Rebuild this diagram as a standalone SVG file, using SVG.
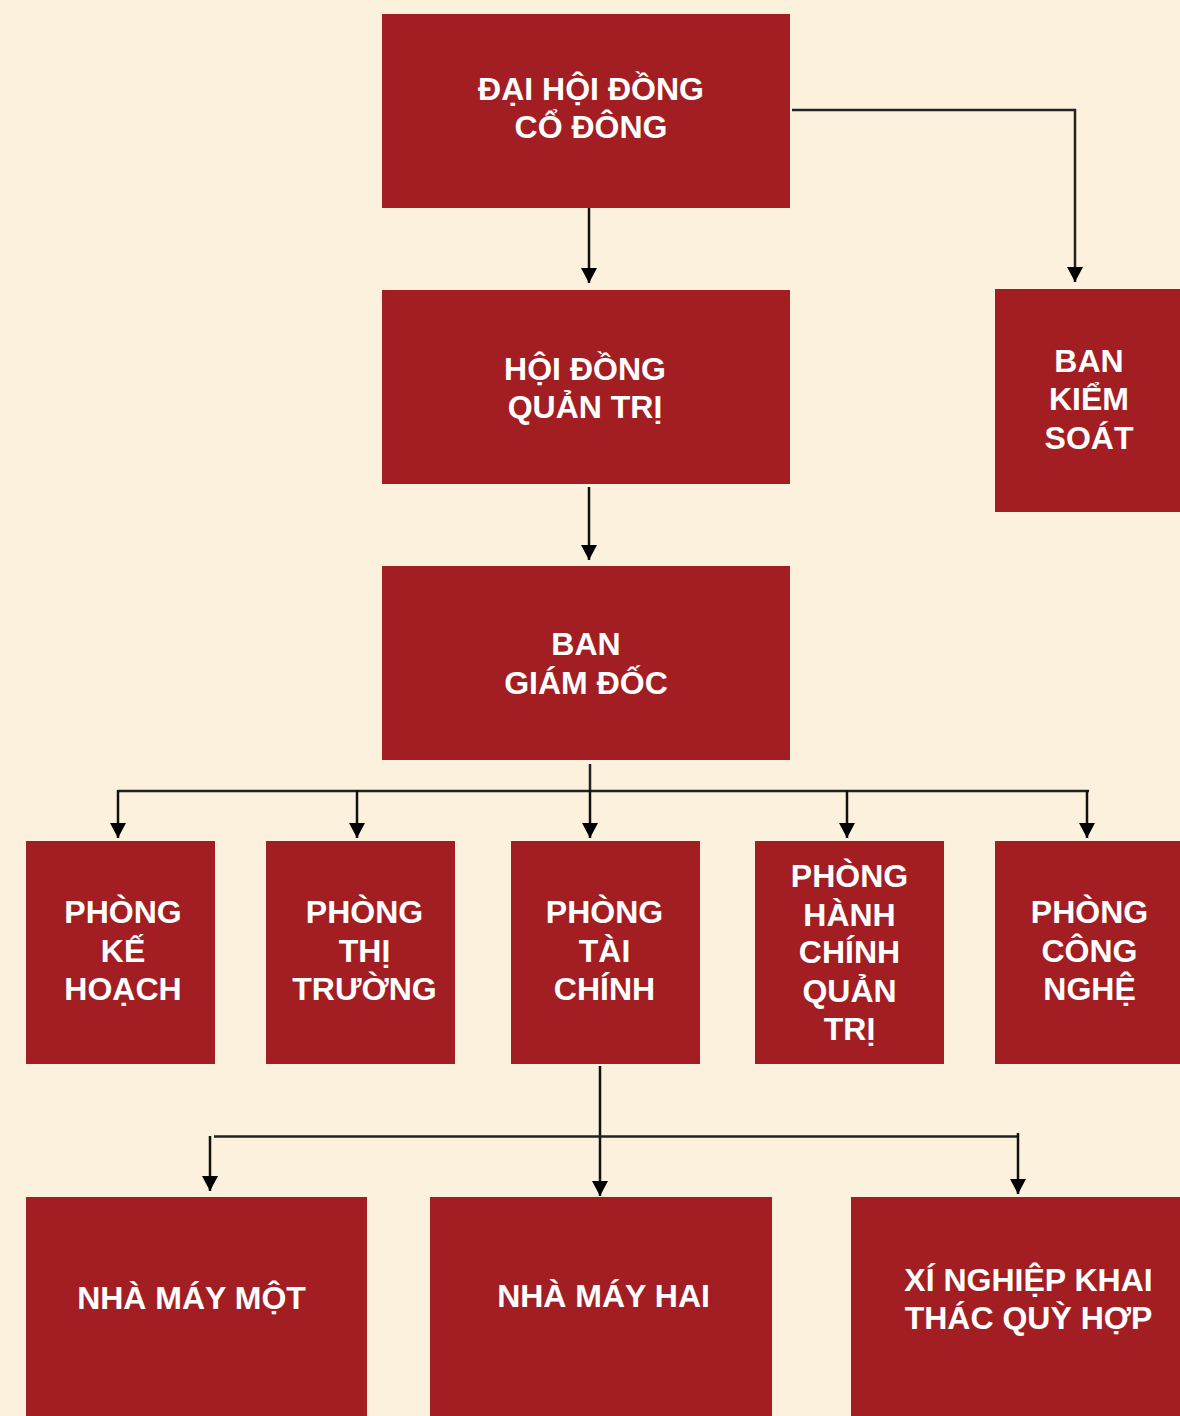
<svg xmlns="http://www.w3.org/2000/svg" width="1180" height="1416" viewBox="0 0 1180 1416">
<defs>
<style>
.box{fill:#A21E22}
.t{font-family:"Liberation Sans",Arial,sans-serif;font-weight:bold;font-size:32px;fill:#FFFFFF;text-anchor:middle}
.c{stroke:#222222;stroke-width:2.5;fill:none}
.a{stroke:#111111;stroke-width:2.5;fill:none;marker-end:url(#arr)}
</style>
<marker id="arr" markerUnits="userSpaceOnUse" markerWidth="16" markerHeight="16" refX="15" refY="8" orient="auto">
<path d="M0,0 L15,8 L0,16 Z" fill="#000000"/>
</marker>
</defs>
<rect x="0" y="0" width="1180" height="1416" fill="#FCF1DC"/>
<g id="connectors">
<line class="a" x1="589" y1="208" x2="589" y2="283"/>
<polyline class="c" points="792,110 1075,110 1075,270"/>
<line class="a" x1="1075" y1="268" x2="1075" y2="282"/>
<line class="a" x1="589" y1="487" x2="589" y2="560"/>
<line class="c" x1="590" y1="764" x2="590" y2="792"/>
<line class="c" x1="118" y1="791" x2="1089" y2="791"/>
<line class="a" x1="118" y1="790" x2="118" y2="838"/>
<line class="a" x1="357" y1="790" x2="357" y2="838"/>
<line class="a" x1="590" y1="790" x2="590" y2="838"/>
<line class="a" x1="847" y1="790" x2="847" y2="838"/>
<line class="a" x1="1087" y1="790" x2="1087" y2="838"/>
<line class="a" x1="600" y1="1066" x2="600" y2="1196"/>
<line class="c" x1="214" y1="1136.5" x2="1018" y2="1136.5"/>
<line class="a" x1="210" y1="1136" x2="210" y2="1191"/>
<line class="a" x1="1018" y1="1133" x2="1018" y2="1194"/>
</g>
<g id="dai-hoi-dong-co-dong">
<rect class="box" x="382" y="14" width="408" height="194"/>
<text class="t"><tspan x="591" y="100">ĐẠI HỘI ĐỒNG</tspan><tspan x="591" y="138">CỔ ĐÔNG</tspan></text>
</g>
<g id="hoi-dong-quan-tri">
<rect class="box" x="382" y="290" width="408" height="194"/>
<text class="t"><tspan x="585" y="380">HỘI ĐỒNG</tspan><tspan x="585" y="418">QUẢN TRỊ</tspan></text>
</g>
<g id="ban-kiem-soat">
<rect class="box" x="995" y="289" width="185" height="223"/>
<text class="t"><tspan x="1089" y="372">BAN</tspan><tspan x="1089" y="410">KIỂM</tspan><tspan x="1089" y="449">SOÁT</tspan></text>
</g>
<g id="ban-giam-doc">
<rect class="box" x="382" y="566" width="408" height="194"/>
<text class="t"><tspan x="586" y="655">BAN</tspan><tspan x="586" y="694">GIÁM ĐỐC</tspan></text>
</g>
<g id="phong-ke-hoach">
<rect class="box" x="26" y="841" width="189" height="223"/>
<text class="t"><tspan x="123" y="923">PHÒNG</tspan><tspan x="123" y="962">KẾ</tspan><tspan x="123" y="1000">HOẠCH</tspan></text>
</g>
<g id="phong-thi-truong">
<rect class="box" x="266" y="841" width="189" height="223"/>
<text class="t"><tspan x="364.5" y="923">PHÒNG</tspan><tspan x="364.5" y="962">THỊ</tspan><tspan x="364.5" y="1000">TRƯỜNG</tspan></text>
</g>
<g id="phong-tai-chinh">
<rect class="box" x="511" y="841" width="189" height="223"/>
<text class="t"><tspan x="604.5" y="923">PHÒNG</tspan><tspan x="604.5" y="962">TÀI</tspan><tspan x="604.5" y="1000">CHÍNH</tspan></text>
</g>
<g id="phong-hanh-chinh-quan-tri">
<rect class="box" x="755" y="841" width="189" height="223"/>
<text class="t"><tspan x="849.5" y="887">PHÒNG</tspan><tspan x="849.5" y="926">HÀNH</tspan><tspan x="849.5" y="963">CHÍNH</tspan><tspan x="849.5" y="1002">QUẢN</tspan><tspan x="849.5" y="1040">TRỊ</tspan></text>
</g>
<g id="phong-cong-nghe">
<rect class="box" x="995" y="841" width="185" height="223"/>
<text class="t"><tspan x="1089.5" y="923">PHÒNG</tspan><tspan x="1089.5" y="962">CÔNG</tspan><tspan x="1089.5" y="1000">NGHỆ</tspan></text>
</g>
<g id="nha-may-mot">
<rect class="box" x="26" y="1197" width="341" height="219"/>
<text class="t" x="191.5" y="1309">NHÀ MÁY MỘT</text>
</g>
<g id="nha-may-hai">
<rect class="box" x="430" y="1197" width="342" height="219"/>
<text class="t" x="603.5" y="1307">NHÀ MÁY HAI</text>
</g>
<g id="xi-nghiep-khai-thac-quy-hop">
<rect class="box" x="851" y="1197" width="329" height="219"/>
<text class="t"><tspan x="1028.5" y="1291">XÍ NGHIỆP KHAI</tspan><tspan x="1028.5" y="1329">THÁC QUỲ HỢP</tspan></text>
</g>
</svg>
